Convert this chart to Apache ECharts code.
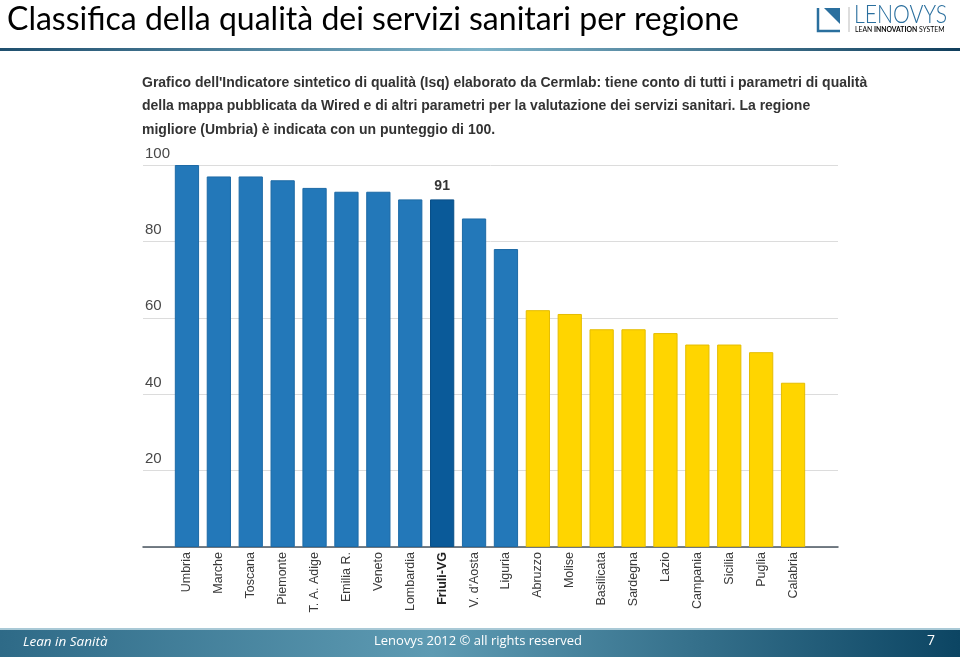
<!DOCTYPE html>
<html><head><meta charset="utf-8">
<script src="https://cdn.jsdelivr.net/npm/echarts@6/dist/echarts.min.js"></script>
<style>html,body{margin:0;padding:0;background:#fff}#c{width:960px;height:657px}</style>
</head><body><div id="c"></div>
<script>
var regions = ['Umbria','Marche','Toscana','Piemonte','T. A. Adige','Emilia R.','Veneto','Lombardia','Friuli-VG',"V. d'Aosta",'Liguria','Abruzzo','Molise','Basilicata','Sardegna','Lazio','Campania','Sicilia','Puglia','Calabria'];
var scores = [100,97,97,96,94,93,93,91,91,86,78,62,61,57,57,56,53,53,51,43];
var groups = ['nord','nord','nord','nord','nord','nord','nord','nord','hl','nord','nord','sud','sud','sud','sud','sud','sud','sud','sud','sud'];
var yTicks = [0,20,40,60,80,100];
var highlightRegion = 'Friuli-VG';

var colors = {nord:'#2378b9', hl:'#0a5a99', sud:'#ffd500'};
var borders = {nord:'#1d6aa6', hl:'#084f88', sud:'#e5bd00'};

var chart = echarts.init(document.getElementById('c'), null, {renderer:'canvas'});
var barData = scores.map(function(v,i){
  var g = groups[i];
  var item = {value:v, itemStyle:{color:colors[g], borderColor:borders[g], borderWidth:1}};
  if (regions[i]===highlightRegion){
    item.label = {show:true, position:'top', distance:6, fontFamily:'Liberation Sans, Arial', fontWeight:'bold', fontSize:14, color:'#333', formatter:'{c}'};
  }
  return item;
});
var catData = regions.map(function(r){
  return r===highlightRegion ? {value:r, textStyle:{fontWeight:'bold', color:'#222'}} : r;
});

var subtitle = "Grafico dell'Indicatore sintetico di qualità (Isq) elaborato da Cermlab: tiene conto di tutti i parametri di qualità\ndella mappa pubblicata da Wired e di altri parametri per la valutazione dei servizi sanitari. La regione\nmigliore (Umbria) è indicata con un punteggio di 100.";

chart.setOption({
  animation:false,
  grid:[
    {left:171, right:151, top:165, bottom:110},
    {left:143, right:122, top:165, bottom:110}
  ],
  xAxis:[
    {type:'category', gridIndex:0, data:catData, axisLine:{show:false}, axisTick:{show:false},
     axisLabel:{rotate:90, interval:0, margin:5, fontFamily:'Liberation Sans, Arial', fontSize:12.5, color:'#3a3a3a'}},
    {type:'value', gridIndex:1, min:0, max:1, axisLine:{show:true, lineStyle:{color:'#4a5560', width:1.5}}, axisTick:{show:false}, axisLabel:{show:false}, splitLine:{show:false}}
  ],
  yAxis:[
    {type:'value', gridIndex:0, min:0, max:100, show:false},
    {type:'value', gridIndex:1, min:0, max:100, interval:20, axisLine:{show:false}, axisTick:{show:false},
     splitLine:{show:true, lineStyle:{color:'#dcdcdc', width:1}},
     axisLabel:{inside:true, margin:2, verticalAlign:'bottom', padding:[0,0,4,0], fontFamily:'Liberation Sans, Arial', fontSize:15, color:'#484848',
       formatter:function(v){ return (v===0) ? '' : String(v); }}}
  ],
  series:[
    {type:'bar', xAxisIndex:0, yAxisIndex:0, data:barData, barCategoryGap:'24%'}
  ],
  graphic:[
    {type:'text', left:7, top:4, style:{text:'Classifica della qualità dei servizi sanitari per regione', font:'32px Lato, "Open Sans", sans-serif', fill:'#000'}},
    {type:'rect', shape:{x:0,y:48,width:960,height:3}, style:{fill:new echarts.graphic.LinearGradient(0,0,1,0,[{offset:0,color:'#1f4f6e'},{offset:0.5,color:'#7fb3c8'},{offset:1,color:'#103e5c'}])}},
    {type:'text', left:142, top:71, style:{text:subtitle, font:'bold 14px "Liberation Sans", Arial', fill:'#333', lineHeight:23.5}},
    // logo
    {type:'polyline', shape:{points:[[818,8],[818,31],[840,31]]}, style:{stroke:'#2a6f9e', lineWidth:2.5, fill:null}},
    {type:'polygon', shape:{points:[[824,8],[840,8],[840,24]]}, style:{fill:'#2a6f9e'}},
    {type:'line', shape:{x1:849,y1:7,x2:849,y2:32}, style:{stroke:'#bbb', lineWidth:1}},
    {type:'text', x:854, y:2, scaleX:0.85, style:{text:'LENOVYS', font:'300 25px Lato, "Open Sans", sans-serif', fill:'#2a6f9e'}},
    {type:'text', left:855, top:26, style:{text:'{a|LEAN }{b|INNOVATION}{a| SYSTEM}', rich:{a:{fontSize:6.8, fontFamily:'Lato', color:'#888'}, b:{fontSize:6.8, fontFamily:'Lato', fontWeight:'bold', color:'#666'}}}},
    // footer
    {type:'rect', shape:{x:0,y:628,width:960,height:29}, style:{fill:new echarts.graphic.LinearGradient(0,0,1,0,[{offset:0,color:'#2e6a87'},{offset:0.45,color:'#5e9bb3'},{offset:1,color:'#0c4563'}])}},
    {type:'rect', shape:{x:0,y:628,width:960,height:2}, style:{fill:'#a9c9d6'}},
    {type:'text', left:23, top:635, style:{text:'Lean in Sanità', font:'italic 13.5px "Open Sans", sans-serif', fill:'#fff'}},
    {type:'text', left:374, top:635, style:{text:'Lenovys 2012 © all rights reserved', font:'13px "Open Sans", sans-serif', fill:'#fff'}},
    {type:'text', left:927, top:634, style:{text:'7', font:'14px "Open Sans", sans-serif', fill:'#fff'}}
  ]
});
</script></body></html>
